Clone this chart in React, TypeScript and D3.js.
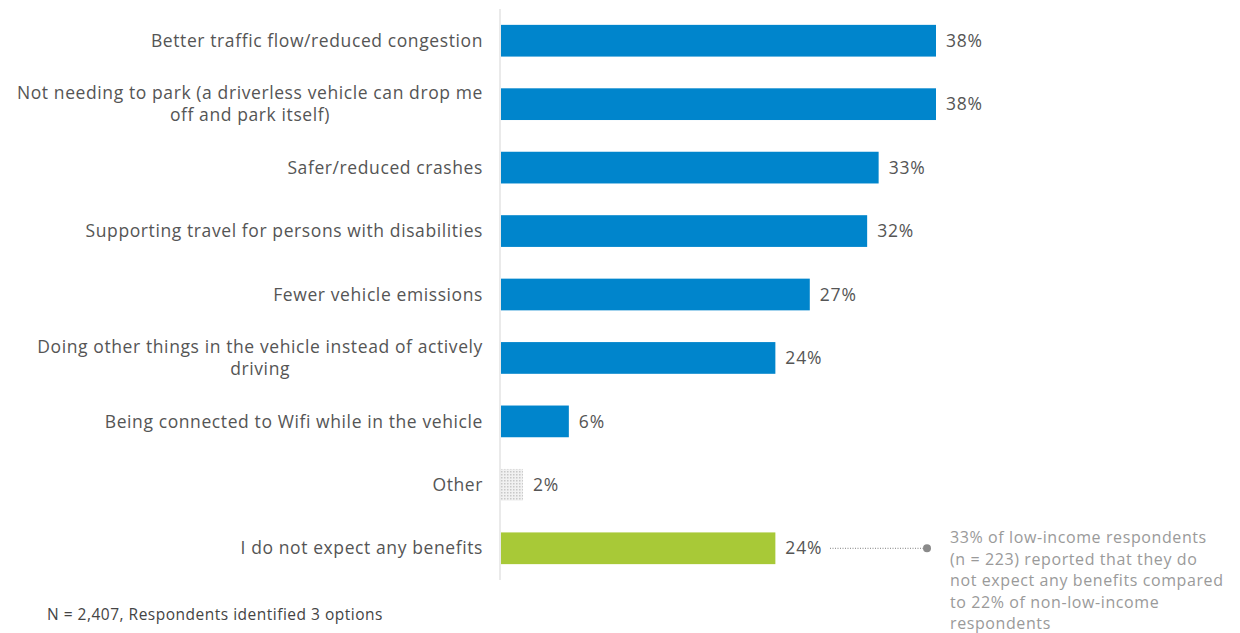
import React, { useEffect, useRef } from "react";
import * as d3 from "d3";

const categories: string[][] = [
  ["Better traffic flow/reduced congestion"],
  ["Not needing to park (a driverless vehicle can drop me", "off and park itself)"],
  ["Safer/reduced crashes"],
  ["Supporting travel for persons with disabilities"],
  ["Fewer vehicle emissions"],
  ["Doing other things in the vehicle instead of actively", "driving"],
  ["Being connected to Wifi while in the vehicle"],
  ["Other"],
  ["I do not expect any benefits"],
];
const values: number[] = [38, 38, 33, 32, 27, 24, 6, 2, 24];
const kinds: string[] = ["main", "main", "main", "main", "main", "main", "main", "other", "none"];
const annotationLines: string[] = [
  "33% of low-income respondents",
  "(n = 223) reported that they do",
  "not expect any benefits compared",
  "to 22% of non-low-income",
  "respondents",
];
const footnote = "N = 2,407, Respondents identified 3 options";

const W = 1240;
const H = 633;
const FONT = "'Open Sans', 'Noto Sans', sans-serif";

export default function App() {
  const ref = useRef<SVGSVGElement | null>(null);

  useEffect(() => {
    const svg = d3.select(ref.current);
    svg.selectAll("*").remove();

    const x = d3.scaleLinear().domain([0, 38]).range([500, 936]);
    const keys = categories.map((_, i) => String(i));
    const y = d3.scaleBand<string>().domain(keys).range([9, 580]).paddingInner(0.5).paddingOuter(0.25);

    const defs = svg.append("defs");
    const pat = defs
      .append("pattern")
      .attr("id", "dots")
      .attr("width", 3)
      .attr("height", 3)
      .attr("patternUnits", "userSpaceOnUse");
    pat.append("rect").attr("width", 3).attr("height", 3).attr("fill", "#f1f1f1");
    pat.append("rect").attr("width", 1.5).attr("height", 1.5).attr("fill", "#c8c8c8");

    svg
      .append("line")
      .attr("x1", x(0))
      .attr("x2", x(0))
      .attr("y1", y.range()[0])
      .attr("y2", y.range()[1])
      .attr("stroke", "#dcdcdc")
      .attr("stroke-width", 1.2);

    const fill = (k: string) => (k === "main" ? "#0085cc" : k === "none" ? "#a8c937" : "url(#dots)");

    const g = svg.selectAll("g.row").data(values).enter().append("g").attr("class", "row");

    g.append("rect")
      .attr("x", x(0) + 1)
      .attr("y", (_, i) => y(keys[i])!)
      .attr("width", (d) => x(d) - x(0) - 1)
      .attr("height", y.bandwidth())
      .attr("fill", (_, i) => fill(kinds[i]));

    g.append("text")
      .attr("x", (d) => x(d) + 10)
      .attr("y", (_, i) => y(keys[i])! + y.bandwidth() / 2)
      .attr("dy", "0.35em")
      .attr("font-family", FONT)
      .attr("font-size", 17.5)
      .attr("letter-spacing", 0.8)
      .attr("fill", "#555")
      .text((d) => `${d}%`);

    const labelRight = 483;
    categories.forEach((lines, i) => {
      const cy = y(keys[i])! + y.bandwidth() / 2;
      const lh = 22;
      const t = svg
        .append("text")
        .attr("font-family", FONT)
        .attr("font-size", 17.5)
        .attr("letter-spacing", 0.6)
        .attr("fill", "#555");
      const spans = lines.map((ln, j) =>
        t
          .append("tspan")
          .attr("y", cy + (j - (lines.length - 1) / 2) * lh)
          .attr("dy", "0.35em")
          .text(ln)
      );
      const widths = spans.map((s) => (s.node() as SVGTSpanElement).getComputedTextLength());
      const maxW = Math.max(...widths);
      const center = labelRight - maxW / 2;
      spans.forEach((s) => s.attr("x", center).attr("text-anchor", "middle"));
    });

    const iNone = kinds.indexOf("none");
    const ay = y(keys[iNone])! + y.bandwidth() / 2;
    svg
      .append("line")
      .attr("x1", 830)
      .attr("x2", 925)
      .attr("y1", ay)
      .attr("y2", ay)
      .attr("stroke", "#999")
      .attr("stroke-width", 1.2)
      .attr("stroke-dasharray", "1,1.5");
    svg.append("circle").attr("cx", 927).attr("cy", ay).attr("r", 4).attr("fill", "#8a8a8a");
    const at = svg
      .append("text")
      .attr("font-family", FONT)
      .attr("font-size", 16)
      .attr("letter-spacing", 0.6)
      .attr("fill", "#9a9a9a");
    annotationLines.forEach((ln, j) => {
      at.append("tspan").attr("x", 950).attr("y", 543 + j * 21.5).text(ln);
    });

    svg
      .append("text")
      .attr("x", 47)
      .attr("y", 620)
      .attr("font-family", FONT)
      .attr("font-size", 15.5)
      .attr("letter-spacing", 0.5)
      .attr("fill", "#444")
      .text(footnote);
  }, []);

  return (
    <svg
      ref={ref}
      width={W}
      height={H}
      style={{ position: "absolute", left: 0, top: 0, background: "#fff" }}
    />
  );
}
